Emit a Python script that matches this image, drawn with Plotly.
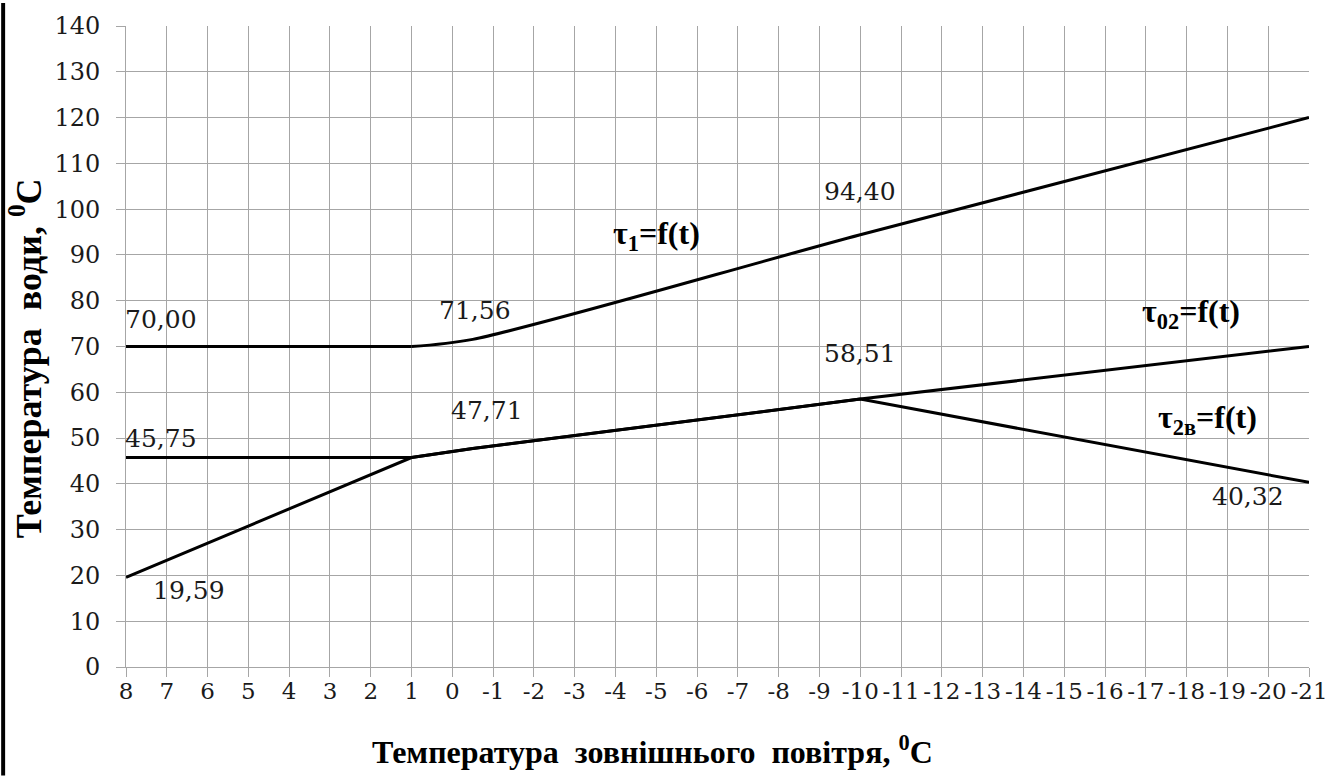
import plotly.graph_objects as go

# Outdoor air temperature categories shown on the x axis (8 … -21 °C)
t_ticks = list(range(8, -22, -1))
t_tick_labels = [str(v) for v in t_ticks]

# Supply water temperature τ1 = f(t): flat part, then the rising curve
tau1_t = [8, 1, -0.5, -10, -21]
tau1_v = [70.00, 70.00, 71.56, 94.40, 120.00]

# Return water temperature τ02 = f(t)
tau02_t = [8, 1, -0.5, -10, -21]
tau02_v = [19.59, 45.75, 47.71, 58.51, 70.00]

# Return water temperature τ2в = f(t)
tau2v_t = [8, 1, -0.5, -10, -21]
tau2v_v = [45.75, 45.75, 47.71, 58.51, 40.32]

# Value labels: (text, x, y)
value_labels = [
    ("70,00", 7.13, 75.9),
    ("45,75", 7.13, 50.0),
    ("19,59", 6.45, 16.7),
    ("71,56", -0.55, 77.9),
    ("47,71", -0.84, 56.1),
    ("94,40", -10.0, 103.9),
    ("58,51", -10.0, 68.4),
    ("40,32", -19.5, 37.2),
]

# Curve names: (text, x, y)
curve_labels = [
    ("τ<sub>1</sub>=f(t)", -5.0, 94.3),
    ("τ<sub>02</sub>=f(t)", -18.1, 77.2),
    ("τ<sub>2в</sub>=f(t)", -18.5, 54.1),
]

SERIF = "DejaVu Serif"
SERIF_B = "Liberation Serif"
GRID = "#a6a6a6"
LINE = dict(color="black", width=3)

fig = go.Figure()
fig.add_trace(go.Scatter(x=tau02_t, y=tau02_v, mode="lines", line=LINE, name="τ02"))
fig.add_trace(go.Scatter(x=tau2v_t, y=tau2v_v, mode="lines", line=LINE, name="τ2в"))
# τ1: straight flat section up to t = 1, smoothed curve beyond it
fig.add_trace(go.Scatter(x=tau1_t[:2], y=tau1_v[:2], mode="lines", line=LINE, name="τ1"))
fig.add_trace(go.Scatter(x=tau1_t[1:], y=tau1_v[1:], mode="lines",
                         line=dict(LINE, shape="spline", smoothing=0.8), name="τ1"))

for text, x, y in value_labels:
    fig.add_annotation(x=x, y=y, text=text, showarrow=False,
                       font=dict(family=SERIF, size=25, color="#1a1a1a"))

for text, x, y in curve_labels:
    fig.add_annotation(x=x, y=y, text="<b>" + text + "</b>", showarrow=False,
                       font=dict(family=SERIF_B, size=32, color="black"))

L, R, T, B = 126, 20, 23, 109
W_PLOT = 1340 - L - R
H_PLOT = 776 - T - B

# axis titles
fig.add_annotation(xref="paper", yref="paper",
                   x=(657 - L) / W_PLOT, y=-(750 - (776 - B)) / H_PLOT,
                   text="<b>Температура  зовнішнього  повітря, <sup>0</sup>C</b>",
                   showarrow=False, xanchor="center", yanchor="middle",
                   font=dict(family=SERIF_B, size=32, color="black"))
fig.add_annotation(xref="paper", yref="paper",
                   x=(25 - L) / W_PLOT, y=((776 - B) - 357) / H_PLOT,
                   text="<b>Температура  води, <sup>0</sup>C</b>", textangle=-90,
                   showarrow=False, xanchor="center", yanchor="middle",
                   font=dict(family=SERIF_B, size=36, color="black"))

# dark strip along the left edge of the figure
fig.add_shape(type="rect", xref="paper", yref="paper",
              x0=-L / W_PLOT, x1=-(L - 4) / W_PLOT,
              y0=-B / H_PLOT, y1=1 + T / H_PLOT,
              fillcolor="black", line=dict(width=0), layer="above")

fig.update_layout(
    width=1340, height=776,
    margin=dict(l=L, r=R, t=T, b=B),
    paper_bgcolor="white", plot_bgcolor="white",
    showlegend=False,
    font=dict(family=SERIF, color="black"),
    xaxis=dict(
        range=[8, -21],
        tickvals=t_ticks, ticktext=t_tick_labels,
        showgrid=True, gridcolor=GRID, gridwidth=1,
        showline=True, linecolor=GRID, linewidth=1,
        ticks="outside", ticklen=9, tickcolor=GRID,
        ticklabelstandoff=-6, ticklabeloverflow="allow",
        tickfont=dict(family=SERIF, size=23, color="#1a1a1a"),
        zeroline=False,
    ),
    yaxis=dict(
        range=[0, 140], dtick=10,
        showgrid=True, gridcolor=GRID, gridwidth=1,
        showline=True, linecolor=GRID, linewidth=1,
        ticks="outside", ticklen=9, tickcolor=GRID,
        ticklabelstandoff=11,
        tickfont=dict(family=SERIF, size=24, color="#1a1a1a"),
        zeroline=False,
    ),
)

fig.write_html("out.html")
